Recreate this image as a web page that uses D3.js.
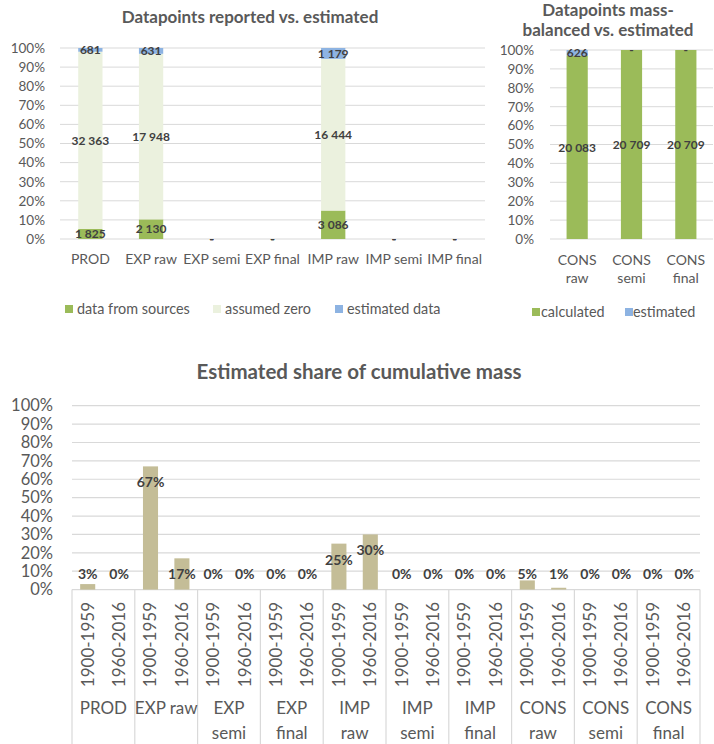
<!DOCTYPE html>
<html><head><meta charset="utf-8">
<script src="https://cdn.jsdelivr.net/npm/d3@7"></script>
<style>
html,body{margin:0;padding:0;background:#fff;}
svg{display:block;font-family:Lato, "Noto Sans", sans-serif;}
</style></head>
<body>
<svg id="c" width="714" height="744"></svg>
<script>
// ---------- data ----------
const cat1 = ["PROD","EXP raw","EXP semi","EXP final","IMP raw","IMP semi","IMP final"];
const dataFromSources = [1825,2130,0,0,3086,0,0];
const assumedZero = [32363,17948,0,0,16444,0,0];
const estimatedData = [681,631,0,0,1179,0,0];
const series1 = ["data from sources","assumed zero","estimated data"];

const cat2 = ["CONS\nraw","CONS\nsemi","CONS\nfinal"];
const calculated = [20083,20709,20709];
const estimated2 = [626,0,0];
const series2 = ["calculated","estimated"];

const groups3 = ["PROD","EXP raw","EXP\nsemi","EXP\nfinal","IMP\nraw","IMP\nsemi","IMP\nfinal","CONS\nraw","CONS\nsemi","CONS\nfinal"];
const periods = ["1900-1959","1960-2016"];
const share1900_1959 = [0.03,0.67,0,0,0.25,0,0,0.05,0,0];
const share1960_2016 = [0,0.17,0,0,0.30,0,0,0.01,0,0];
const pctTicks = [0,0.1,0.2,0.3,0.4,0.5,0.6,0.7,0.8,0.9,1];

// ---------- styles ----------
const GREEN="#9bbb59", LIGHT="#ebf1de", BLUE="#8db3e2", TAN="#c4bd97";
const AX="#595959", LBL="#404040", GRID="#d9d9d9";
const svg = d3.select("#c");
const pct = d3.format(".0%");
const num = d3.formatLocale({decimal:",",thousands:" ",grouping:[3],currency:["",""]}).format(",d");
const lbl = v => v===0 ? "-" : num(v);

function stackedChart(g, cats, keys, cols, rows, x0, x1, yTop, yBot, tickX, padI, padO, catY){
  const table = cats.map((c,i)=>{const o={cat:c}; keys.forEach((k,j)=>o[k]=rows[j][i]); return o;});
  const stack = d3.stack().keys(keys).offset(d3.stackOffsetExpand)(table);
  const x = d3.scaleBand().domain(cats).range([x0,x1]).paddingInner(padI).paddingOuter(padO);
  const y = d3.scaleLinear().domain([0,1]).range([yBot,yTop]);
  g.append("g").selectAll("line").data(pctTicks).join("line")
    .attr("x1",x0).attr("x2",x1).attr("y1",d=>y(d)).attr("y2",d=>y(d))
    .attr("stroke",GRID).attr("stroke-width",1);
  const ya = g.append("g").attr("transform",`translate(${tickX},0)`)
    .call(d3.axisLeft(y).tickValues(pctTicks).tickFormat(pct).tickSize(0).tickPadding(0));
  ya.select(".domain").remove();
  ya.selectAll("text").attr("fill",AX).style("font-size","13.5px").style("font-family","Lato");
  stack.forEach((s,j)=>{
    g.append("g").selectAll("rect").data(s).join("rect")
      .attr("x",d=>x(d.data.cat)).attr("width",x.bandwidth())
      .attr("y",d=>y(d[1])).attr("height",d=>Math.max(0,y(d[0])-y(d[1])))
      .attr("fill",cols[j]);
  });
  stack.forEach((s,j)=>{
    g.append("g").selectAll("text").data(s).join("text")
      .attr("x",d=>x(d.data.cat)+x.bandwidth()/2)
      .attr("y",d=>y((d[0]+d[1])/2))
      .attr("text-anchor","middle").attr("dy","0.35em")
      .attr("fill",LBL).style("font-weight","bold").style("font-size","12px")
      .text(d=>lbl(d.data[s.key]));
  });
  const xl = g.append("g").selectAll("text").data(cats).join("text")
    .attr("x",d=>x(d)+x.bandwidth()/2).attr("y",catY)
    .attr("text-anchor","middle").attr("fill",AX).style("font-size","14px");
  xl.each(function(d){
    const t=d3.select(this);
    d.split("\n").forEach((line,i)=>t.append("tspan").attr("x",x(d)+x.bandwidth()/2).attr("dy",i===0?"0.35em":"18px").text(line));
  });
  return {x,y};
}

function legend(g, items, cols, xs, y, size){
  items.forEach((it,i)=>{
    g.append("rect").attr("x",xs[i][0]).attr("y",y-size/2).attr("width",size).attr("height",size).attr("fill",cols[i]);
    g.append("text").attr("x",xs[i][1]).attr("y",y).attr("dy","0.35em").attr("fill",AX)
      .style("font-size","14.4px").text(it);
  });
}

// ---------- chart 1 ----------
const g1 = svg.append("g");
g1.append("text").attr("x",250).attr("y",23).attr("text-anchor","middle").attr("fill",AX)
  .style("font-weight","bold").style("font-size","17px").text("Datapoints reported vs. estimated");
stackedChart(g1, cat1, series1, [GREEN,LIGHT,BLUE], [dataFromSources,assumedZero,estimatedData],
  60, 485, 48, 239, 45, 0.6, 0.3, 259);
legend(g1, series1, [GREEN,LIGHT,BLUE], [[65,77],[213,225],[335,347]], 309, 8);

// ---------- chart 2 ----------
const g2 = svg.append("g");
g2.append("text").attr("x",608).attr("y",16).attr("text-anchor","middle").attr("fill",AX)
  .style("font-weight","bold").style("font-size","17px").text("Datapoints mass-");
g2.append("text").attr("x",608).attr("y",36).attr("text-anchor","middle").attr("fill",AX)
  .style("font-weight","bold").style("font-size","17px").text("balanced vs. estimated");
stackedChart(g2, cat2, series2, [GREEN,BLUE], [calculated,estimated2],
  550, 713, 50, 239, 534, 0.61, 0.305, 260);
legend(g2, series2, [GREEN,BLUE], [[532,541],[625,633]], 312, 8);

// ---------- chart 3 ----------
const g3 = svg.append("g");
g3.append("text").attr("x",359).attr("y",379).attr("text-anchor","middle").attr("fill",AX)
  .style("font-weight","bold").style("font-size","20.5px").text("Estimated share of cumulative mass");
const x0 = d3.scaleBand().domain(groups3).range([72,700]);
const x1 = d3.scaleBand().domain(periods).range([0,x0.bandwidth()]).paddingInner(0.52).paddingOuter(0.26);
const y3 = d3.scaleLinear().domain([0,1]).range([589.6,405.7]);
g3.append("g").selectAll("line").data(pctTicks).join("line")
  .attr("x1",72).attr("x2",700).attr("y1",d=>y3(d)).attr("y2",d=>y3(d))
  .attr("stroke",GRID).attr("stroke-width",1.2);
const ya3 = g3.append("g").attr("transform","translate(53,0)")
  .call(d3.axisLeft(y3).tickValues(pctTicks).tickFormat(pct).tickSize(0).tickPadding(0));
ya3.select(".domain").remove();
ya3.selectAll("text").attr("fill",AX).style("font-size","16.5px").style("font-family","Lato");
const flat = [];
groups3.forEach((gname,i)=>{
  flat.push({g:gname,p:periods[0],v:share1900_1959[i]});
  flat.push({g:gname,p:periods[1],v:share1960_2016[i]});
});
g3.append("g").selectAll("rect").data(flat).join("rect")
  .attr("x",d=>x0(d.g)+x1(d.p)).attr("width",x1.bandwidth())
  .attr("y",d=>y3(d.v)).attr("height",d=>y3(0)-y3(d.v)).attr("fill",TAN);
g3.append("g").selectAll("text").data(flat).join("text")
  .attr("x",d=>x0(d.g)+x1(d.p)+x1.bandwidth()/2)
  .attr("y",d=>Math.min(y3(d.v)+16, y3(0)-16))
  .attr("dy","0.35em").attr("text-anchor","middle").attr("fill",LBL)
  .style("font-weight","bold").style("font-size","14px").text(d=>pct(d.v));
const bounds = groups3.map(d=>x0(d)).concat([x0(groups3[groups3.length-1])+x0.bandwidth()]);
g3.append("g").selectAll("line").data(bounds).join("line")
  .attr("x1",d=>d).attr("x2",d=>d).attr("y1",y3(0)).attr("y2",744)
  .attr("stroke",GRID).attr("stroke-width",1.2);
g3.append("g").selectAll("text").data(flat).join("text")
  .attr("transform",d=>`translate(${x0(d.g)+x1(d.p)+x1.bandwidth()/2},602) rotate(-90)`)
  .attr("text-anchor","end").attr("dy","0.35em").attr("fill",AX).style("font-size","17px")
  .text(d=>d.p);
const gl = g3.append("g").selectAll("text").data(groups3).join("text")
  .attr("x",d=>x0(d)+x0.bandwidth()/2).attr("y",708)
  .attr("text-anchor","middle").attr("fill",AX).style("font-size","17px");
gl.each(function(d){
  const t=d3.select(this);
  d.split("\n").forEach((line,i)=>t.append("tspan").attr("x",x0(d)+x0.bandwidth()/2).attr("dy",i===0?"0.35em":"25px").text(line));
});
</script>
</body></html>
